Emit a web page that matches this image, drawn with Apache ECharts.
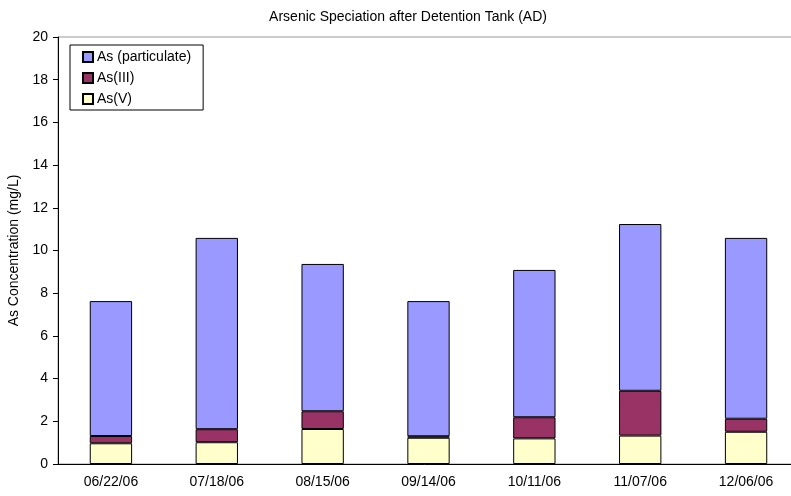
<!DOCTYPE html>
<html><head><meta charset="utf-8">
<script src="https://cdn.jsdelivr.net/npm/echarts@6/dist/echarts.min.js"></script>
<style>html,body{margin:0;padding:0;background:#fff}#c{width:791px;height:496px}</style>
</head><body><div id="c"></div>
<script>
const categories = ['06/22/06','07/18/06','08/15/06','09/14/06','10/11/06','11/07/06','12/06/06'];
const asV = [0.97, 1.02, 1.64, 1.23, 1.20, 1.33, 1.51];
const asIII = [0.34, 0.61, 0.83, 0.07, 0.99, 2.10, 0.61];
const asPart = [6.32, 8.96, 6.90, 6.33, 6.90, 7.81, 8.47];
const yTicks = {min: 0, max: 20, interval: 2};

const font = 'Liberation Sans, Arial, sans-serif';
const chart = echarts.init(document.getElementById('c'));
const barStyle = (c) => ({color: c, borderColor: '#000', borderWidth: 1});
chart.setOption({
  animation: false,
  title: {text: 'Arsenic Speciation after Detention Tank (AD)', left: 403, top: 5, textAlign: 'center',
    textStyle: {fontFamily: font, fontSize: 14, fontWeight: 'normal', color: '#000'}},
  grid: {left: 58, width: 741, top: 37, height: 427, show: true, borderColor: '#999', borderWidth: 1,
    outerBoundsMode: 'none', containLabel: false},
  legend: {
    orient: 'vertical', left: 70, top: 45, itemWidth: 10, itemHeight: 10, itemGap: 7,
    padding: [5, 12, 4, 12], borderColor: '#000', borderWidth: 1, backgroundColor: '#fff',
    data: ['As (particulate)', 'As(III)', 'As(V)'],
    textStyle: {fontFamily: font, fontSize: 14, color: '#000', padding: [0,0,0,-1]},
    icon: 'rect'
  },
  xAxis: {type: 'category', data: categories,
    axisLine: {lineStyle: {color: '#000'}},
    axisTick: {length: 5, lineStyle: {color: '#000'}},
    axisLabel: {fontFamily: font, fontSize: 14, color: '#000', margin: 11}},
  yAxis: {type: 'value', min: yTicks.min, max: yTicks.max, interval: yTicks.interval,
    name: 'As Concentration (mg/L)', nameLocation: 'middle', nameGap: 33,
    nameTextStyle: {fontFamily: font, fontSize: 14, color: '#000'},
    axisLine: {show: true, lineStyle: {color: '#000'}},
    axisTick: {show: true, length: 5, lineStyle: {color: '#000'}},
    splitLine: {show: false},
    axisLabel: {fontFamily: font, fontSize: 14, color: '#000', margin: 10}},
  series: [
    {name: 'As(V)', type: 'bar', stack: 's', data: asV, barWidth: '40%', itemStyle: barStyle('#FFFFCC')},
    {name: 'As(III)', type: 'bar', stack: 's', data: asIII, itemStyle: barStyle('#993366')},
    {name: 'As (particulate)', type: 'bar', stack: 's', data: asPart, itemStyle: barStyle('#9999FF')}
  ]
});
</script></body></html>
